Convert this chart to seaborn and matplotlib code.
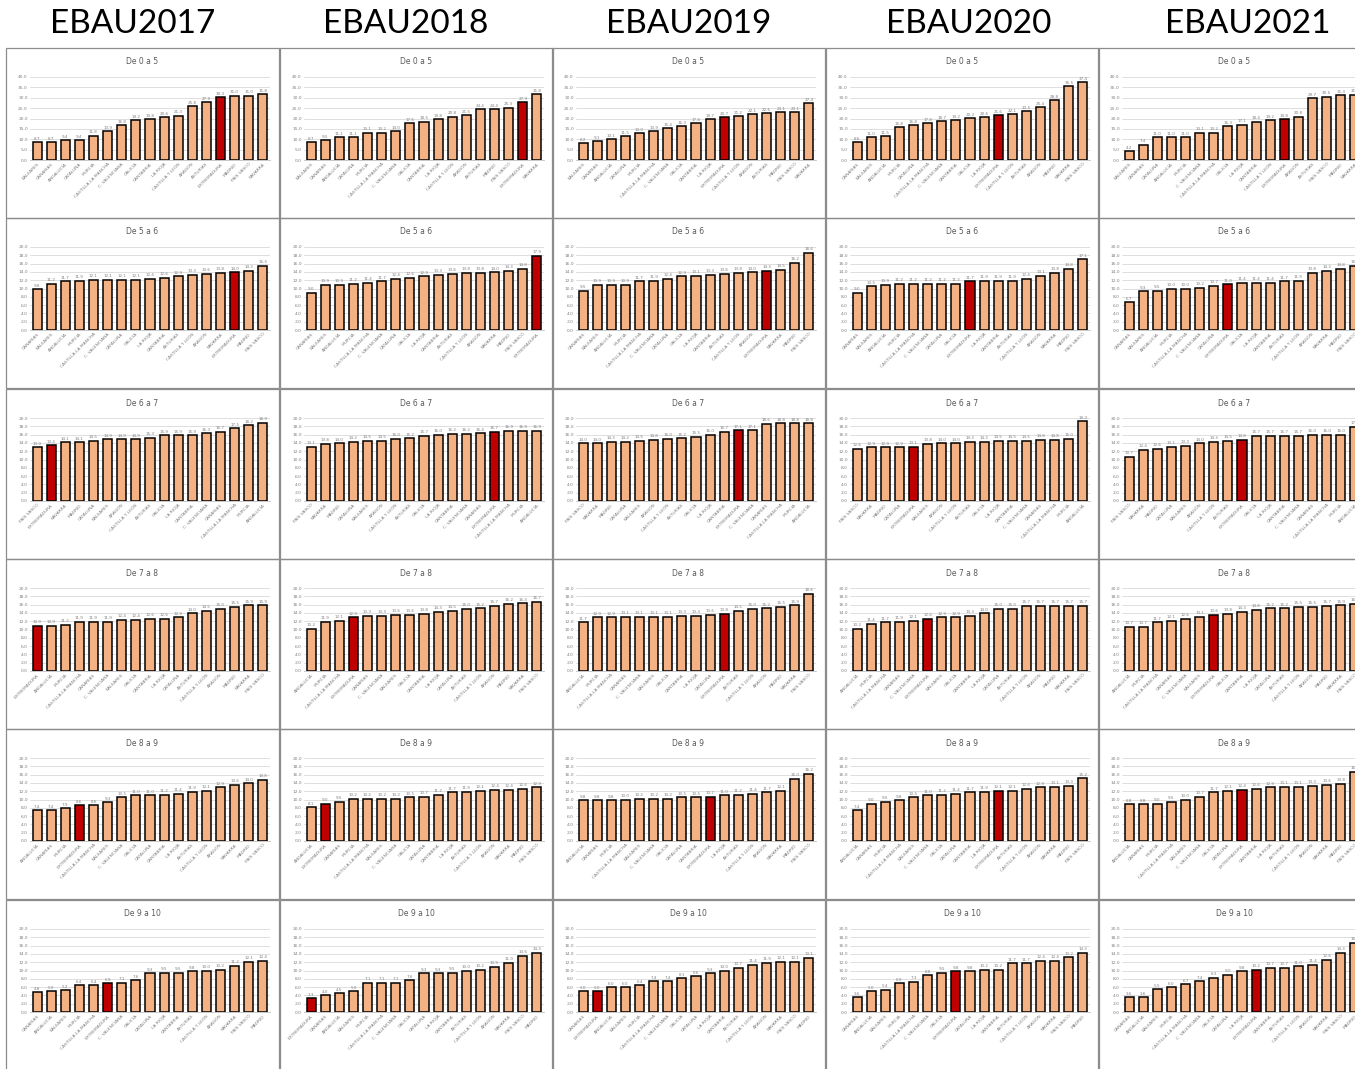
"""Distribucion de notas EBAU por comunidad autonoma (2017-2021)."""

import matplotlib.pyplot as plt
import numpy as np
import pandas as pd
import seaborn as sns
from matplotlib.patches import Rectangle

sns.set_theme(style="white")
plt.rcParams["font.family"] = ["DejaVu Sans"]

W, H = 1355, 1069

YEARS = ["EBAU2017", "EBAU2018", "EBAU2019", "EBAU2020", "EBAU2021"]
RANGES = ["De 0 a 5", "De 5 a 6", "De 6 a 7", "De 7 a 8", "De 8 a 9", "De 9 a 10"]
RANGE_TOPS = [40, 20, 20, 20, 20, 20]
RANGE_STEPS = [5, 2, 2, 2, 2, 2]
HIGHLIGHT = "EXT"

NAMES = {
    "AND": "ANDALUCÍA", "ARA": "ARAGÓN", "AST": "ASTURIAS", "BAL": "BALEARES",
    "CNR": "CANARIAS", "CTB": "CANTABRIA", "CYL": "CASTILLA Y LEÓN",
    "CLM": "CASTILLA-LA MANCHA", "CAT": "CATALUÑA", "VAL": "C. VALENCIANA",
    "EXT": "EXTREMADURA", "GAL": "GALICIA", "MAD": "MADRID", "MUR": "MURCIA",
    "NAV": "NAVARRA", "PVA": "PAÍS VASCO", "RIO": "LA RIOJA",
}

ORDER_2017 = [
    "BAL CNR AND CAT MUR CLM VAL GAL CTB RIO CYL ARA AST EXT MAD PVA NAV".split(),
    "CNR BAL AND MUR CLM VAL CAT GAL RIO CTB AST CYL ARA NAV EXT MAD PVA".split(),
    "PVA EXT NAV MAD CAT BAL ARA CYL AST GAL RIO CTB VAL CNR CLM MUR AND".split(),
    "EXT AND MUR CLM CNR VAL BAL GAL CTB RIO CAT AST CYL ARA MAD NAV PVA".split(),
    "AND CNR MUR EXT CLM BAL VAL GAL CAT CTB RIO AST CYL ARA NAV MAD PVA".split(),
    "CNR AND BAL MUR CLM EXT VAL GAL CAT RIO CTB AST CYL ARA NAV PVA MAD".split(),
]
ORDER_2018 = [
    "BAL CNR AND CAT MUR CLM VAL GAL CTB RIO CYL ARA AST MAD PVA EXT NAV".split(),
    "CNR BAL AND MUR CLM VAL CAT GAL RIO CTB AST CYL ARA NAV MAD PVA EXT".split(),
    "PVA NAV MAD CAT BAL ARA CYL AST GAL RIO CTB VAL CNR EXT CLM MUR AND".split(),
    "AND MUR CLM EXT CNR VAL BAL GAL CTB RIO CAT AST CYL ARA MAD NAV PVA".split(),
    "AND EXT CNR MUR CLM BAL VAL GAL CAT CTB RIO AST CYL ARA NAV MAD PVA".split(),
    "EXT CNR AND BAL MUR CLM VAL GAL CAT RIO CTB AST CYL ARA NAV PVA MAD".split(),
]
ORDER_2019 = [
    "BAL CNR AND CAT MUR CLM VAL GAL CTB RIO EXT CYL ARA AST MAD PVA NAV".split(),
    "CNR BAL AND MUR CLM VAL CAT GAL RIO CTB AST CYL ARA EXT NAV MAD PVA".split(),
    "PVA NAV MAD CAT BAL ARA CYL AST GAL RIO CTB EXT VAL CNR CLM MUR AND".split(),
    "AND MUR CLM CNR VAL BAL GAL CTB RIO CAT EXT AST CYL ARA MAD NAV PVA".split(),
    "AND CNR MUR CLM BAL VAL GAL CAT CTB EXT RIO AST CYL ARA NAV MAD PVA".split(),
    "CNR EXT AND BAL MUR CLM VAL GAL CAT RIO CTB AST CYL ARA NAV PVA MAD".split(),
]
ORDER_2020 = [
    "CNR BAL AND MUR CAT CLM VAL CTB GAL RIO EXT CYL AST ARA MAD NAV PVA".split(),
    "CNR BAL AND MUR CLM VAL CAT GAL EXT RIO CTB AST CYL ARA NAV MAD PVA".split(),
    "PVA NAV MAD CAT EXT BAL ARA CYL AST GAL RIO CTB VAL CNR CLM MUR AND".split(),
    "AND MUR CLM CNR VAL EXT BAL GAL CTB RIO CAT AST CYL ARA MAD NAV PVA".split(),
    "AND CNR MUR CLM BAL VAL GAL CAT CTB RIO EXT AST CYL ARA NAV MAD PVA".split(),
    "CNR AND BAL MUR CLM VAL GAL EXT CAT RIO CTB AST CYL ARA NAV PVA MAD".split(),
]
ORDER_2021 = [
    "BAL CNR CAT AND MUR VAL CLM GAL RIO CTB CYL EXT ARA AST PVA MAD NAV".split(),
    "CNR BAL AND MUR CLM VAL CAT EXT GAL RIO CTB AST CYL ARA NAV MAD PVA".split(),
    "PVA NAV MAD CAT BAL ARA CYL AST EXT GAL RIO CTB VAL CNR CLM MUR AND".split(),
    "AND MUR CLM CNR VAL BAL EXT GAL CTB RIO CAT AST CYL ARA MAD NAV PVA".split(),
    "AND CNR MUR CLM BAL VAL GAL CAT EXT CTB RIO AST CYL ARA NAV MAD PVA".split(),
    "CNR AND BAL MUR CLM VAL GAL CAT RIO EXT CTB AST CYL ARA NAV PVA MAD".split(),
]

VALUES_2017 = [
    [8.7, 8.7, 9.4, 9.4, 11.8, 13.9, 16.8, 19.2, 19.8, 20.6, 21.3, 25.8, 27.9, 30.3, 31.0, 31.0, 31.8],
    [9.8, 11.2, 11.7, 11.9, 12.1, 12.1, 12.1, 12.1, 12.4, 12.6, 12.9, 13.3, 13.6, 13.8, 14.0, 14.3, 15.5],
    [13.0, 13.4, 14.1, 14.1, 14.5, 14.9, 14.9, 14.9, 15.3, 15.9, 15.9, 15.9, 16.3, 16.7, 17.5, 18.2, 18.9],
    [10.9, 10.9, 11.2, 11.9, 11.9, 11.9, 12.4, 12.4, 12.6, 12.6, 12.9, 14.0, 14.5, 15.0, 15.5, 15.9, 15.9],
    [7.4, 7.4, 7.9, 8.6, 8.6, 9.3, 10.5, 11.0, 11.0, 11.2, 11.4, 11.9, 12.1, 12.9, 13.6, 14.0, 14.8],
    [4.8, 5.0, 5.2, 6.4, 6.4, 6.9, 7.1, 7.6, 9.3, 9.5, 9.5, 9.8, 10.0, 10.2, 11.2, 12.1, 12.4],
]
VALUES_2018 = [
    [8.7, 9.5, 11.1, 11.1, 13.1, 13.2, 14.0, 17.6, 18.5, 19.8, 20.8, 21.5, 24.4, 24.4, 25.3, 27.9, 31.8],
    [9.0, 10.9, 10.9, 11.2, 11.4, 11.7, 12.4, 12.6, 12.9, 13.3, 13.6, 13.8, 13.8, 14.0, 14.3, 14.8, 17.9],
    [13.1, 13.8, 14.0, 14.3, 14.5, 14.5, 15.0, 15.2, 15.7, 16.0, 16.2, 16.2, 16.4, 16.7, 16.9, 16.9, 16.9],
    [10.2, 11.9, 12.1, 12.9, 13.3, 13.3, 13.6, 13.6, 13.8, 14.3, 14.5, 15.0, 15.2, 15.7, 16.2, 16.4, 16.7],
    [8.1, 9.0, 9.5, 10.2, 10.2, 10.2, 10.2, 10.5, 10.7, 11.2, 11.7, 11.9, 12.1, 12.4, 12.4, 12.6, 12.9],
    [3.3, 4.0, 4.5, 5.0, 7.1, 7.1, 7.1, 7.6, 9.3, 9.3, 9.5, 10.0, 10.2, 10.9, 11.9, 13.6, 14.3],
]
VALUES_2019 = [
    [8.2, 9.1, 10.1, 11.5, 13.0, 13.9, 15.4, 16.3, 17.8, 19.7, 20.7, 21.2, 22.1, 22.6, 23.1, 23.1, 27.4],
    [9.5, 10.9, 10.9, 10.9, 11.7, 11.9, 12.4, 12.9, 13.1, 13.3, 13.6, 13.8, 14.0, 14.3, 14.5, 16.2, 18.6],
    [14.0, 14.0, 14.3, 14.3, 14.5, 14.8, 15.0, 15.2, 15.5, 16.0, 16.7, 17.1, 17.1, 18.6, 18.8, 18.8, 18.8],
    [11.7, 12.9, 12.9, 13.1, 13.1, 13.1, 13.1, 13.3, 13.3, 13.6, 13.8, 14.5, 15.0, 15.2, 15.5, 15.9, 18.6],
    [9.8, 9.8, 9.8, 10.0, 10.2, 10.2, 10.2, 10.5, 10.5, 10.7, 11.0, 11.2, 11.4, 11.7, 12.1, 15.0, 16.2],
    [5.0, 5.0, 6.0, 6.0, 6.4, 7.4, 7.4, 8.1, 8.6, 9.3, 10.0, 10.7, 11.4, 11.9, 12.1, 12.1, 13.1],
]
VALUES_2020 = [
    [8.6, 11.0, 11.5, 15.8, 16.8, 17.8, 18.7, 19.2, 20.2, 20.6, 21.6, 22.1, 23.5, 25.4, 28.8, 35.5, 37.4],
    [9.0, 10.5, 10.9, 11.2, 11.2, 11.2, 11.2, 11.2, 11.7, 11.9, 11.9, 11.9, 12.4, 13.1, 13.8, 14.8, 17.1],
    [12.6, 12.9, 12.9, 12.9, 13.1, 13.8, 14.0, 14.0, 14.3, 14.3, 14.5, 14.5, 14.5, 14.8, 14.8, 15.0, 19.3],
    [10.2, 11.4, 11.7, 11.9, 12.1, 12.6, 12.9, 12.9, 13.3, 14.0, 15.0, 15.0, 15.7, 15.7, 15.7, 15.7, 15.7],
    [7.4, 9.0, 9.5, 9.8, 10.5, 11.0, 11.2, 11.4, 11.7, 11.9, 12.1, 12.1, 12.6, 12.9, 13.1, 13.3, 15.2],
    [3.6, 5.0, 5.4, 6.9, 7.3, 8.8, 9.5, 9.8, 9.8, 10.2, 10.2, 11.7, 11.7, 12.4, 12.4, 13.2, 14.3],
]
VALUES_2021 = [
    [4.2, 7.4, 11.0, 11.0, 11.0, 13.1, 13.2, 16.3, 17.1, 18.4, 19.2, 19.8, 20.8, 29.7, 30.5, 31.3, 31.5],
    [6.7, 9.3, 9.5, 10.0, 10.0, 10.2, 10.7, 11.0, 11.4, 11.4, 11.4, 11.7, 11.9, 13.8, 14.3, 14.8, 15.5],
    [10.7, 12.4, 12.6, 13.1, 13.3, 14.0, 14.3, 14.5, 14.8, 15.7, 15.7, 15.7, 15.7, 16.0, 16.0, 16.0, 17.9],
    [10.7, 10.7, 11.7, 12.1, 12.6, 13.1, 13.6, 13.8, 14.3, 14.8, 15.2, 15.2, 15.5, 15.5, 15.7, 15.9, 16.2],
    [8.8, 8.8, 9.0, 9.5, 10.0, 10.7, 11.7, 12.1, 12.4, 12.6, 12.9, 13.1, 13.1, 13.3, 13.6, 13.8, 16.7],
    [3.6, 3.6, 5.5, 6.0, 6.7, 7.4, 8.3, 9.0, 9.8, 10.2, 10.7, 10.7, 11.0, 11.4, 12.6, 14.3, 16.7],
]

ORDERS = [ORDER_2017, ORDER_2018, ORDER_2019, ORDER_2020, ORDER_2021]
VALUES = [VALUES_2017, VALUES_2018, VALUES_2019, VALUES_2020, VALUES_2021]

# posiciones en pixeles de la imagen original
COL_X = [6, 280, 552, 826, 1098]
ROW_Y = [48, 218, 389, 559, 729, 900]
HEADER_X = [133, 406, 689, 969, 1248]
PANEL_W, PANEL_H = 273, 170

BAR_COLOR = "#f4b183"
RED_COLOR = "#c00000"
TEXT_GREY = "#808080"


def _box(x, y, w, h):
    """Convierte una caja en pixeles (origen arriba-izquierda) a coordenadas de figura."""
    return [x / W, 1 - (y + h) / H, w / W, h / H]


def draw_panel(fig, x0, y0, codes, values, title, top, step):
    fig.add_artist(Rectangle((x0 / W, 1 - (y0 + PANEL_H) / H), PANEL_W / W, PANEL_H / H,
                             transform=fig.transFigure, fill=False,
                             edgecolor="#8c8c8c", linewidth=0.9))
    fig.text((x0 + 136) / W, 1 - (y0 + 14) / H, title, ha="center", va="center",
             fontsize=5.5, color="#595959")

    ax = fig.add_axes(_box(x0 + 24, y0 + 29, 240, 83))
    df = pd.DataFrame({"region": [NAMES[c] for c in codes], "pct": values})
    palette = {NAMES[c]: (RED_COLOR if c == HIGHLIGHT else BAR_COLOR) for c in codes}
    sns.barplot(data=df, x="region", y="pct", hue="region", palette=palette,
                order=list(df["region"]), legend=False, width=0.64,
                edgecolor="black", linewidth=1.1, saturation=1, ax=ax)
    for cont in ax.containers:
        ax.bar_label(cont, fmt="%.1f", fontsize=3, color=TEXT_GREY, padding=1)

    ax.set_xlim(-0.5, len(codes) - 0.5)
    ax.set_ylim(0, top)
    ticks = np.arange(0, top + step / 2, step)
    ax.set_yticks(ticks)
    ax.set_yticklabels([f"{t:.1f}" for t in ticks])
    ax.set_xticks(range(len(codes)))
    ax.set_xticklabels(df["region"], rotation=45, ha="right", rotation_mode="anchor")
    ax.tick_params(axis="both", length=0, labelsize=3.2, labelcolor=TEXT_GREY, pad=1.5)
    ax.set_xlabel("")
    ax.set_ylabel("")
    ax.yaxis.grid(True, color="#d9d9d9", linewidth=0.6)
    ax.set_axisbelow(True)
    for side in ["left", "top", "right"]:
        ax.spines[side].set_visible(False)
    ax.spines["bottom"].set_color("#bfbfbf")
    ax.spines["bottom"].set_linewidth(0.6)
    ax.patch.set_alpha(0)


fig = plt.figure(figsize=(W / 100, H / 100), dpi=100)
fig.patch.set_facecolor("white")

for c, year in enumerate(YEARS):
    fig.text(HEADER_X[c] / W, 1 - 24 / H, year, ha="center", va="center",
             fontsize=24, family=["Lato", "DejaVu Sans"], color="black")
    for r, title in enumerate(RANGES):
        draw_panel(fig, COL_X[c], ROW_Y[r], ORDERS[c][r], VALUES[c][r], title,
                   RANGE_TOPS[r], RANGE_STEPS[r])

fig.savefig("out.png", dpi=100)
plt.close(fig)
